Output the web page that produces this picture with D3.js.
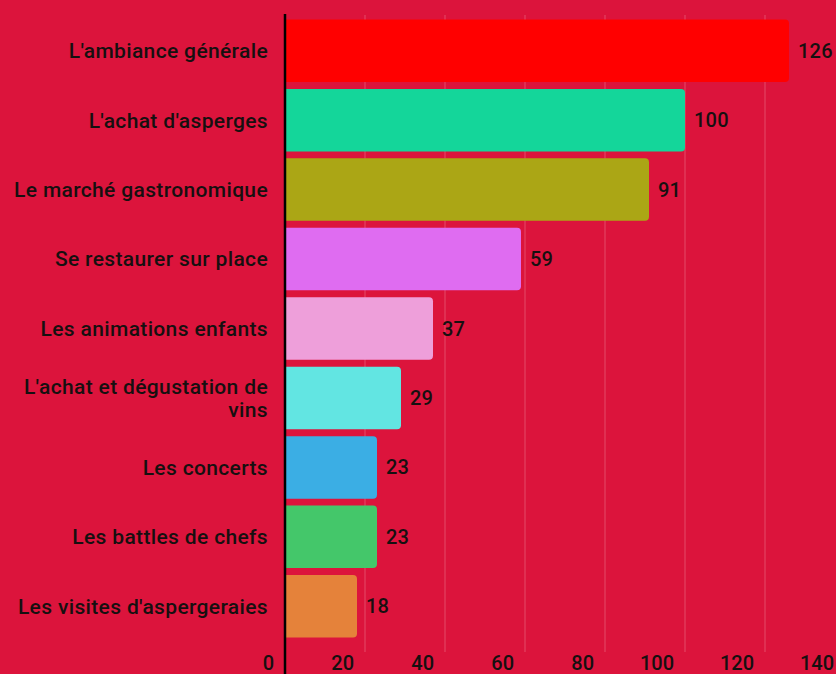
<!DOCTYPE html>
<html>
<head>
<meta charset="utf-8">
<script src="https://cdn.jsdelivr.net/npm/d3@7"></script>
<style>
	body { margin: 0; background: #DC143C; }
	svg { display: block; }
	text { font-family: Roboto, "Noto Sans", sans-serif; fill: #161010; }
</style>
</head>
<body>
<div id="chart"></div>
<script>
// Données
var categories = [
	"L'ambiance générale",
	"L'achat d'asperges",
	"Le marché gastronomique",
	"Se restaurer sur place",
	"Les animations enfants",
	"L'achat et dégustation de|vins",
	"Les concerts",
	"Les battles de chefs",
	"Les visites d'aspergeraies"
];
var values = [126, 100, 91, 59, 37, 29, 23, 23, 18];
var colors = ["#FF0000", "#14D69A", "#ABA615", "#DF6CF1", "#EE9FDA", "#62E5E2", "#3BAEE4", "#44C76A", "#E5823A"];
var tickValues = [0, 20, 40, 60, 80, 100, 120, 140];

(function () {
	'use strict';
	var width = 836, height = 674;
	var axisX = 285;

	var svg = d3.select("#chart").append("svg")
		.attr("width", width)
		.attr("height", height);

	svg.append("rect")
		.attr("width", width)
		.attr("height", height)
		.attr("fill", "#DC143C");

	//Escalas
	var x = d3.scaleLinear()
		.domain([0, 140])
		.range([axisX, axisX + 560]);
	var y = d3.scaleBand()
		.domain(categories)
		.range([16, 641])
		.paddingInner(0.1)
		.paddingOuter(0.05);

	//Linhas de grade
	svg.append("g").selectAll("line")
		.data(tickValues.slice(1))
		.enter()
		.append("line")
		.attr("x1", function(d) { return x(d); })
		.attr("x2", function(d) { return x(d); })
		.attr("y1", 15)
		.attr("y2", 652)
		.attr("stroke", "rgba(255,255,255,0.16)")
		.attr("stroke-width", 1.5);

	//Barras (cantos arredondados à direita)
	var r = 4;
	svg.append("g").selectAll("path")
		.data(values)
		.enter()
		.append("path")
		.attr("fill", function(d, i) { return colors[i]; })
		.attr("d", function(d, i) {
			var x0 = x(0), x1 = x(d), y0 = y(categories[i]), h = y.bandwidth();
			return "M" + x0 + "," + y0 +
				"H" + (x1 - r) +
				"Q" + x1 + "," + y0 + " " + x1 + "," + (y0 + r) +
				"V" + (y0 + h - r) +
				"Q" + x1 + "," + (y0 + h) + " " + (x1 - r) + "," + (y0 + h) +
				"H" + x0 + "Z";
		});

	//Valores
	svg.append("g").selectAll("text")
		.data(values)
		.enter()
		.append("text")
		.attr("x", function(d) { return x(d) + 9; })
		.attr("y", function(d, i) { return y(categories[i]) + y.bandwidth() / 2; })
		.attr("dy", "0.35em")
		.style("font-size", "20px")
		.style("font-weight", 500)
		.style("letter-spacing", "0.2px")
		.text(function(d) { return d; });

	//Rótulos das categorias
	var labels = svg.append("g").selectAll("text")
		.data(categories)
		.enter()
		.append("text")
		.attr("text-anchor", "end")
		.attr("y", function(d) { return y(d) + y.bandwidth() / 2; })
		.style("font-size", "21px")
		.style("font-weight", 500)
		.style("letter-spacing", "0.35px");
	labels.each(function(d) {
		var lines = d.split("|");
		var t = d3.select(this);
		lines.forEach(function(line, k) {
			t.append("tspan")
				.attr("x", 268)
				.attr("dy", k === 0 ? (0.35 - (lines.length - 1) * 0.55) + "em" : "1.1em")
				.text(line);
		});
	});

	//Eixo X
	svg.append("g").selectAll("text")
		.data(tickValues)
		.enter()
		.append("text")
		.attr("text-anchor", "end")
		.attr("x", function(d) { return x(d) - 11; })
		.attr("y", 670)
		.style("font-size", "20px")
		.style("font-weight", 500)
		.text(function(d) { return d; });

	//Linha do eixo Y
	svg.append("line")
		.attr("x1", axisX)
		.attr("x2", axisX)
		.attr("y1", 14)
		.attr("y2", height)
		.attr("stroke", "#000")
		.attr("stroke-width", 2.5);
}());
</script>
</body>
</html>
